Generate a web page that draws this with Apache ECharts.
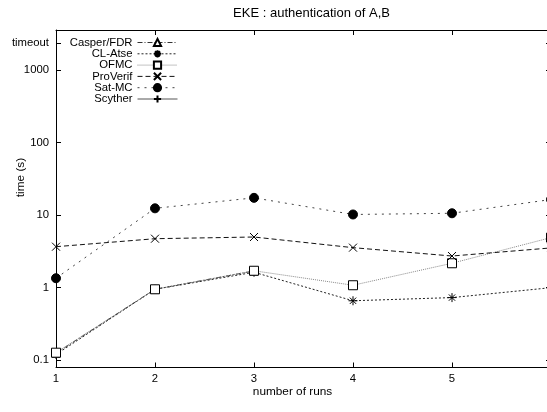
<!DOCTYPE html>
<html><head><meta charset="utf-8">
<script src="https://cdn.jsdelivr.net/npm/echarts@6/dist/echarts.min.js"></script>
<style>html,body{margin:0;padding:0;overflow:hidden;background:#fff}#c{width:547px;height:412px}</style>
</head><body><div id="c"></div>
<script>
// ---- data ----
const runs = [1, 2, 3, 4, 5, 6];
const casperFDR = [0.125, 0.95, 1.7];
const clAtse = [0.12, 0.95, 1.63, 0.66, 0.73, 1.0];
const ofmc = [0.127, 0.95, 1.71, 1.08, 2.17, 4.9];
const proVerif = [3.67, 4.73, 4.99, 3.56, 2.73, 3.53];
const satMC = [1.35, 12.4, 17.3, 10.2, 10.6, 16.4];
const scyther = [];
const yTickValues = [0.1, 1, 10, 100, 1000, 2370];
const yTickLabels = ['0.1', '1', '10', '100', '1000', 'timeout'];
const xTickValues = [1, 2, 3, 4, 5, 6];
const titleText = 'EKE : authentication of A,B';
const xName = 'number of runs';
const yName = 'time (s)';

const FONT = 'Liberation Sans, Arial, Helvetica, sans-serif';
const FS = 11.3;
const pts = arr => arr.map((v, i) => [runs[i], v]);

const SYM_X = 'path://M0,0L10,10M10,0L0,10';
const SYM_AST = 'path://M0,5L10,5M5,0L5,10M1.5,1.5L8.5,8.5M8.5,1.5L1.5,8.5';
const SYM_PLUS = 'path://M0,5L10,5M5,0L5,10';

function mk(name, arr, color, dash, symbol, size, fill) {
  return {
    name: name, type: 'line', data: pts(arr),
    symbol: symbol, symbolSize: size, showSymbol: true,
    lineStyle: { color: color, width: 1, type: dash },
    itemStyle: { color: fill, borderColor: '#000', borderWidth: 1 },
    emphasis: { disabled: true }, z: 3
  };
}

const chart = echarts.init(document.getElementById('c'), null, { renderer: 'canvas' });
chart.setOption({
  animation: false,
  backgroundColor: '#fff',
  textStyle: { fontFamily: FONT },
  grid: { left: 56, right: -4, top: 30, bottom: 44.5, containLabel: false, outerBoundsMode: 'none' },
  graphic: [
    { type: 'text', x: 311.5, y: 13.5, silent: true,
      style: { text: titleText, font: '13px ' + FONT, fill: '#000', align: 'center', verticalAlign: 'middle' } },
    { type: 'text', x: 292.5, y: 392, silent: true,
      style: { text: xName, font: '11.8px ' + FONT, fill: '#000', align: 'center', verticalAlign: 'middle' } },
    { type: 'text', x: 21, y: 177.5, rotation: Math.PI / 2, silent: true,
      style: { text: yName, font: '11.8px ' + FONT, fill: '#000', align: 'center', verticalAlign: 'middle' } }
  ],
  legend: {
    orient: 'vertical', align: 'right', right: 547 - 178, top: 37, padding: 0,
    itemWidth: 40, itemHeight: 9, itemGap: 0.3,
    lineStyle: { width: 1 },
    textStyle: { fontSize: FS, fontFamily: FONT, color: '#000', lineHeight: 11 },
    data: ['Casper/FDR', 'CL-Atse', 'OFMC', 'ProVerif', 'Sat-MC', 'Scyther']
  },
  xAxis: [{
    type: 'value', min: 1, max: 6, interval: 1, position: 'bottom',
    axisLine: { show: true, lineStyle: { color: '#000', width: 1 } },
    axisTick: { show: true, inside: true, length: 5, lineStyle: { color: '#000' }, customValues: xTickValues },
    axisLabel: { fontSize: FS, fontFamily: FONT, color: '#000', margin: 6, customValues: xTickValues },
    splitLine: { show: false }
  }, {
    type: 'value', min: 1, max: 6, interval: 1, position: 'top',
    axisLine: { show: true, lineStyle: { color: '#000', width: 1 } },
    axisTick: { show: true, inside: true, length: 5, lineStyle: { color: '#000' } },
    axisLabel: { show: false }, splitLine: { show: false }
  }],
  yAxis: [{
    type: 'log', logBase: 10, min: 0.0794, max: 3556, position: 'left',
    axisLine: { show: true, lineStyle: { color: '#000', width: 1 } },
    axisTick: { show: true, inside: true, length: 5, lineStyle: { color: '#000' }, customValues: yTickValues },
    axisLabel: {
      fontSize: FS, fontFamily: FONT, color: '#000', margin: 7, customValues: yTickValues,
      formatter: v => { const i = yTickValues.findIndex(t => Math.abs(t - v) / t < 1e-6); return i >= 0 ? yTickLabels[i] : ''; }
    },
    splitLine: { show: false }, minorTick: { show: false }
  }, {
    type: 'log', logBase: 10, min: 0.0794, max: 3556, position: 'right',
    axisLine: { show: true, lineStyle: { color: '#000', width: 1 } },
    axisTick: { show: true, inside: true, length: 5, lineStyle: { color: '#000' }, customValues: yTickValues },
    axisLabel: { show: false, customValues: yTickValues }, splitLine: { show: false }
  }],
  series: [
    mk('Casper/FDR', casperFDR, '#333', [5, 2, 1, 2], 'triangle', 8, '#fff'),
    mk('CL-Atse', clAtse, '#222', [2, 2], SYM_AST, 9, 'rgba(0,0,0,0)'),
    mk('OFMC', ofmc, '#888', [1, 1], 'rect', 9, '#fff'),
    mk('ProVerif', proVerif, '#111', [5, 3], SYM_X, 8, 'rgba(0,0,0,0)'),
    mk('Sat-MC', satMC, '#444', [2, 5], 'circle', 9, '#000'),
    mk('Scyther', scyther, '#555', 'solid', SYM_PLUS, 9, 'rgba(0,0,0,0)')
  ]
});
</script></body></html>
